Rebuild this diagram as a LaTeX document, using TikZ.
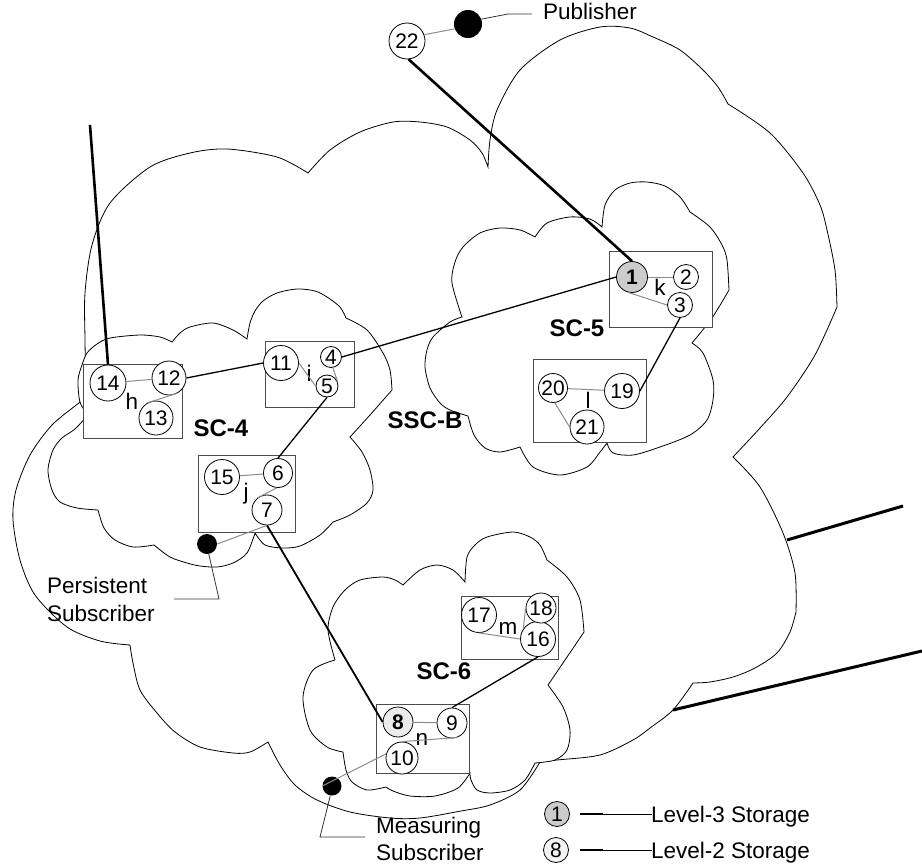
\documentclass[tikz,border=0pt]{standalone}
\usepackage{fontspec}
\setmainfont{Liberation Sans}
\newcommand{\numf}{\fontsize{21}{23}\selectfont}
\newcommand{\labf}{\fontsize{22.5}{25}\selectfont}
\newcommand{\scf}{\fontsize{24}{26}\selectfont\bfseries}
\begin{document}
\begin{tikzpicture}[x=1pt,y=-1pt,
  cloudline/.style={draw=black, line width=0.8pt},
  cloud/.style={draw=black, line width=0.8pt, fill=white},
  nd/.style={circle, draw=black, line width=0.8pt, fill=white, inner sep=0pt, minimum size=#1, font=\numf},
  nd/.default=34,
  boxst/.style={draw=black!70, line width=1pt, fill=white},
  glink/.style={draw=black!45, line width=1pt},
  blink/.style={draw=black, line width=1.3pt},
  mlink/.style={draw=black, line width=1.8pt},
  tlink/.style={draw=black, line width=2.6pt},
  sclab/.style={font=\scf, inner sep=0pt},
  lab/.style={font=\labf, inner sep=0pt},
  dotst/.style={circle, fill=black, inner sep=0pt, minimum size=#1},
  dotst/.default=20,
  callout/.style={draw=black!80, line width=0.8pt},
]
\useasboundingbox (0,0) rectangle (922,865);

% ---------- big cloud SSC-B ----------
\path[cloudline]
 plot[smooth] coordinates {(130,645) (100,641) (67,627) (35,595) (20,560) (13,520) (16,490) (30,455) (52,425) (80,402) (86,395)}
 -- plot[smooth] coordinates {(86,395) (85,340) (85,293) (92,245) (110,203) (150,167) (190,153) (227,149) (277,157) (308,173)}
 -- plot[smooth] coordinates {(308,173) (330,150) (360,132) (393,122) (420,122) (447,127) (470,140) (482,153) (488,167)}
 -- plot[smooth] coordinates {(488,167) (490,140) (497,110) (520,70) (560,40) (600,27) (630,28) (653,37) (680,50) (703,70) (718,87) (728,104)}
 -- plot[smooth] coordinates {(728,104) (770,133) (803,173) (820,205) (827,230) (835,270) (837,307)}
 -- plot[smooth] coordinates {(837,307) (815,355) (787,397) (760,428) (733,457)}
 -- plot[smooth] coordinates {(733,457) (760,487) (783,533) (795,573) (796,612)}
 -- plot[smooth] coordinates {(796,612) (790,632) (777,653) (755,668) (733,677) (710,682) (693,683)}
 -- plot[smooth] coordinates {(693,683) (673,710) (650,728) (633,740) (600,755) (557,760) (540,762)}
 -- plot[smooth] coordinates {(540,762) (520,790) (490,805) (461,811) (420,818) (390,818) (350,812) (317,800) (295,785) (280,765) (268,742)}
 -- plot[smooth] coordinates {(268,742) (250,752) (233,753) (200,747) (175,732) (157,713) (140,690) (133,663) (130,645)}
 -- cycle;

% ---------- SC-4 cloud ----------
\path[cloud]
 plot[smooth] coordinates {(88,415) (80,402) (78,380) (82,365) (87,353) (97,344) (110,338) (140,335) (160,337) (172,342)}
 -- plot[smooth] coordinates {(172,342) (180,333) (190,327) (213,323) (233,330) (247,339)}
 -- plot[smooth] coordinates {(247,339) (250,323) (255,311) (263,301) (277,293) (297,289) (315,291) (327,297) (340,307) (346,318)}
 -- plot[smooth] coordinates {(346,318) (367,330) (383,353) (390,370) (392,390)}
 -- plot[smooth] coordinates {(392,390) (370,415) (350,437)}
 -- plot[smooth] coordinates {(350,437) (362,452) (370,470) (373,490) (367,503) (350,515) (333,522)}
 -- plot[smooth] coordinates {(333,522) (320,535) (300,546) (283,548) (265,545) (255,533)}
 -- plot[smooth] coordinates {(255,533) (247,553) (233,563) (217,567) (200,566) (187,563) (170,557) (154,545)}
 -- plot[smooth] coordinates {(154,545) (133,547) (115,540) (104,528) (98,510)}
 -- plot[smooth] coordinates {(98,510) (77,508) (60,502) (52,490) (48,470) (53,450) (62,438) (75,429) (88,415)}
 -- cycle;

% ---------- SC-5 cloud ----------
\path[cloud]
 plot[smooth] coordinates {(468,416) (450,410) (440,403) (430,388) (425,367) (427,350) (433,337) (450,322) (462,317)}
 -- plot[smooth] coordinates {(462,317) (452,283) (455,262) (463,247) (480,233) (500,228) (520,230) (535,237)}
 -- plot[smooth] coordinates {(535,237) (547,223) (570,217) (590,219) (602,227)}
 -- plot[smooth] coordinates {(602,227) (605,205) (615,190) (630,183) (647,182) (665,186) (680,197) (690,212)}
 -- plot[smooth] coordinates {(690,212) (710,227) (722,245) (727,260) (729,290)}
 -- plot[smooth] coordinates {(729,290) (712,318) (692,343)}
 -- plot[smooth] coordinates {(692,343) (703,353) (713,380) (713,400) (707,420) (690,435) (660,447) (633,455) (613,453) (607,443)}
 -- plot[smooth] coordinates {(607,443) (600,452) (587,467) (560,475) (533,467) (520,447)}
 -- plot[smooth] coordinates {(520,447) (500,452) (485,448) (474,435) (468,416)}
 -- cycle;

% ---------- SC-6 cloud ----------
\path[cloud]
 plot[smooth] coordinates {(335,660) (328,630) (333,607) (345,590) (360,580) (383,577) (395,580) (403,585)}
 -- plot[smooth] coordinates {(403,585) (420,570) (437,565) (453,570) (465,582)}
 -- plot[smooth] coordinates {(465,582) (467,557) (475,545) (487,537) (513,532) (530,537) (540,545) (547,560)}
 -- plot[smooth] coordinates {(547,560) (567,577) (580,600) (584,632)}
 -- plot[smooth] coordinates {(584,632) (565,660) (548,685)}
 -- plot[smooth] coordinates {(548,685) (563,707) (570,730) (567,750) (555,760) (535,763)}
 -- plot[smooth] coordinates {(535,763) (525,780) (510,790) (490,793) (477,790) (471,780) (470,773)}
 -- plot[smooth] coordinates {(470,773) (458,788) (435,796) (410,796) (393,791) (386,787)}
 -- plot[smooth] coordinates {(386,787) (367,790) (352,782) (346,770) (343,752)}
 -- plot[smooth] coordinates {(343,752) (327,747) (310,730) (303,697) (313,670) (335,660)}
 -- cycle;

% ---------- boxes ----------
\draw[boxst] (83,364) rectangle (182,438);
\draw[boxst] (265,341) rectangle (354,407);
\draw[boxst] (198,455) rectangle (295,532);
\draw[boxst] (609,251) rectangle (712,327);
\draw[boxst] (533,359) rectangle (646,442);
\draw[boxst] (461,596) rectangle (558,659);
\draw[boxst] (376,704) rectangle (469,773);

% ---------- storage nodes ----------
\node[nd=36] (n22) at (407,41) {22};
\node[nd=31, fill=black!20, font=\numf\bfseries] (n1) at (632,277) {1};
\node[nd=25] (n2) at (686,277) {2};
\node[nd=25] (n3) at (680,305) {3};
\node[nd=21] (n4) at (331,357) {4};
\node[nd=22] (n5) at (327,386) {5};
\node[nd=35] (n11) at (281,363) {11};
\node[nd=34] (n12) at (169,378) {12};
\node[nd=34] (n13) at (156,418) {13};
\node[nd=36] (n14) at (108,383) {14};
\node[nd=35] (n15) at (222,477) {15};
\node[nd=29] (n6) at (278,473) {6};
\node[nd=30] (n7) at (267,510) {7};
\node[nd=35] (n16) at (538,639) {16};
\node[nd=35] (n17) at (479,615) {17};
\node[nd=30] (n18) at (541,608) {18};
\node[nd=35] (n19) at (622,391) {19};
\node[nd=29] (n20) at (553,388) {20};
\node[nd=34] (n21) at (587,427) {21};
\node[nd=30, fill=black!8, font=\numf\bfseries] (n8) at (398,722) {8};
\node[nd=30] (n9) at (452,723) {9};
\node[nd=32] (n10) at (402,758) {10};

% ---------- box letters ----------
\node[lab] (lh) at (132,401) {h};
\node[lab] (li) at (309,373) {i};
\node[lab] (lj) at (246,494) {j};
\node[lab] (lk) at (660,287) {k};
\node[lab] (ll) at (588,400) {l};
\node[lab] (lm) at (508,628) {m};
\node[lab] (ln) at (422,739) {n};

% ---------- cloud labels ----------
\node[sclab] (sc4) at (221,428) {SC-4};
\node[sclab] (sc5) at (577,328) {SC-5};
\node[sclab] (sc6) at (444,671) {SC-6};
\node[sclab] (sscb) at (425,420) {SSC-B};

% ---------- intra-box links ----------
\draw[glink] (n14) -- (n12);
\draw[glink] (n13.120) -- (n12.-60);
\draw[glink] (n11.0) -- (n5.180);
\draw[glink] (n4.-80) -- (n5.20);
\draw[glink] (n15) -- (n6);
\draw[glink] (n6.-95) -- (n7.128);
\draw[glink] (n1) -- (n2);
\draw[glink] (n1.-105) -- (n3.180);
\draw[glink] (n20) -- (n19);
\draw[glink] (n20.-83) -- (n21.180);
\draw[glink] (n17.-90) -- (n16.180);
\draw[glink] (n18.180) -- (n16.145);
\draw[glink] (n8) -- (n9);
\draw[glink] (n10.90) -- (n9.-70);

% ---------- inter-box links ----------
\draw[blink] (n12.east) -- (n11.west);
\draw[blink] (n1.west) -- (n4.east);
\draw[blink] (n5.south) -- (n6.north);
\draw[blink] (n3.south) -- (n19.east);
\draw[blink] (n16.south) -- (n9.north);
\draw[mlink] (n7.south) -- (n8.west);
\draw[tlink] (n22.-85) -- (n1.north);
\coordinate (tl) at (90,125);
\draw[tlink] (tl) -- (n14.north);
\coordinate (ra1) at (787,540);
\coordinate (rb1) at (903,506);
\coordinate (ra2) at (673,710);
\coordinate (rb2) at (922,651);
\draw[tlink, line width=3pt] (ra1) -- (rb1);
\draw[tlink, line width=3pt] (ra2) -- (rb2);

% ---------- publisher ----------
\node[dotst=28] (pubd) at (468,24) {};
\draw[glink] (n22.20) -- (pubd.200);
\coordinate (pa) at (508,14);
\coordinate (pb) at (532,14);
\draw[callout] (pubd.20) -- (pa) -- (pb);
\node[lab, anchor=base west] (pubt) at (543,19) {Publisher};

% ---------- persistent subscriber ----------
\node[dotst=20] (pd) at (207,544) {};
\draw[glink] (pd.east) -- (n7.-90);
\coordinate (psa) at (219,599);
\coordinate (psb) at (174,599);
\draw[callout] (pd.-80) -- (psa) -- (psb);
\node[lab, anchor=base west] (pst1) at (47,593) {Persistent};
\node[lab, anchor=base west] (pst2) at (47,621) {Subscriber};

% ---------- measuring subscriber ----------
\node[dotst=19] (md) at (332,786) {};
\draw[glink] (n10.165) -- (md.west);
\coordinate (msa) at (320,837);
\coordinate (msb) at (365,837);
\draw[callout] (md.-100) -- (msa) -- (msb);
\node[lab, anchor=base west] (mst1) at (376,833) {Measuring};
\node[lab, anchor=base west] (mst2) at (376,860) {Subscriber};

% ---------- legend ----------
\node[nd=25, fill=black!20] (lg1) at (557,814) {1};
\node[nd=25, fill=black!5] (lg8) at (556,850) {8};
\coordinate (lg1a) at (580,814);
\coordinate (lg1m) at (603,814);
\coordinate (lg1b) at (652,814);
\coordinate (lg8a) at (580,850);
\coordinate (lg8m) at (603,850);
\coordinate (lg8b) at (652,850);
\draw[line width=1.4pt] (lg1a) -- (lg1m);
\draw[line width=0.9pt] (lg1m) -- (lg1b);
\draw[line width=1.4pt] (lg8a) -- (lg8m);
\draw[line width=0.9pt] (lg8m) -- (lg8b);
\node[lab, anchor=base west] (lg1t) at (651,822) {Level-3 Storage};
\node[lab, anchor=base west] (lg8t) at (651,858) {Level-2 Storage};
\end{tikzpicture}
\end{document}
